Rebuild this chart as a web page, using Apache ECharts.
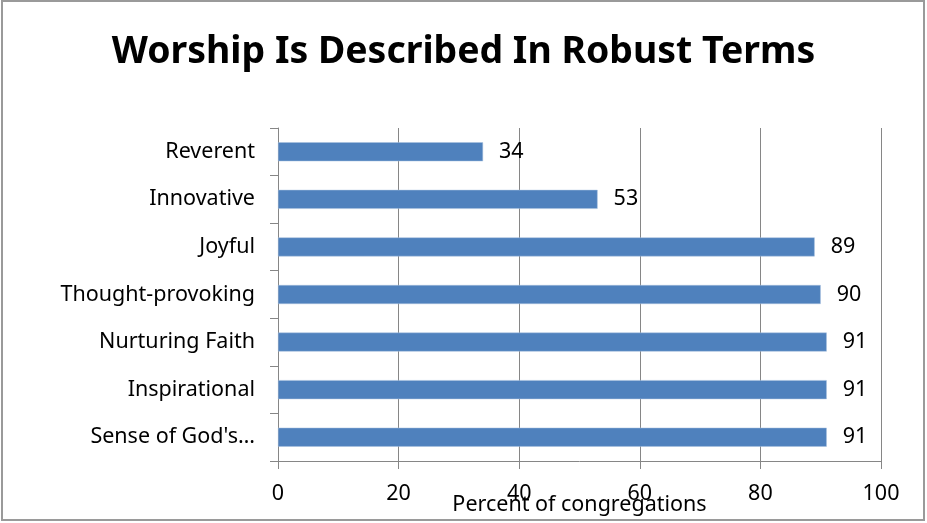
<!DOCTYPE html>
<html>
<head>
<meta charset="utf-8">
<style>
  html, body { margin: 0; padding: 0; background: #fff; }
  #chart { width: 927px; height: 523px; }
</style>
<script src="https://cdn.jsdelivr.net/npm/echarts@6/dist/echarts.min.js"></script>
</head>
<body>
<div id="chart"></div>
<script>
// Worship descriptors, listed top to bottom
const categories = ['Reverent', 'Innovative', 'Joyful', 'Thought-provoking', 'Nurturing Faith', 'Inspirational', "Sense of God's\u2026"];
const percentValues = [34, 53, 89, 90, 91, 91, 91];
const axisMin = 0, axisMax = 100, axisStep = 20;

const FONT = '"Noto Sans", "Open Sans", sans-serif';
const chart = echarts.init(document.getElementById('chart'), null, { renderer: 'canvas' });

chart.setOption({
  animation: false,
  backgroundColor: '#ffffff',
  title: {
    text: 'Worship Is Described In Robust Terms',
    left: 'center',
    top: 29,
    textStyle: { fontFamily: FONT, fontWeight: 'bold', fontSize: 37.4, color: '#000' }
  },
  graphic: [{
    type: 'rect',
    shape: { x: 2, y: 1, width: 922, height: 519 },
    style: { fill: 'none', stroke: '#9a9a9a', lineWidth: 2 },
    silent: true,
    z: 100
  }],
  grid: { left: 278, right: 46, top: 128, bottom: 62, containLabel: false, outerBoundsMode: 'none' },
  xAxis: {
    type: 'value',
    min: axisMin, max: axisMax, interval: axisStep,
    name: 'Percent of congregations',
    nameLocation: 'middle',
    nameGap: 33,
    nameMoveOverlap: false,
    nameTextStyle: { fontFamily: FONT, fontSize: 21.5, color: '#000' },
    axisLine: { show: true, lineStyle: { color: '#868686', width: 1 } },
    axisTick: { show: true, length: 8, lineStyle: { color: '#868686' } },
    axisLabel: { fontFamily: FONT, fontSize: 21.5, color: '#000', margin: 22 },
    splitLine: { show: true, lineStyle: { color: '#868686', width: 1 } }
  },
  yAxis: {
    type: 'category',
    data: categories,
    inverse: true,
    axisLine: { show: true, lineStyle: { color: '#868686', width: 1 } },
    axisTick: { show: true, length: 8, lineStyle: { color: '#868686' } },
    axisLabel: { fontFamily: FONT, fontSize: 21.5, color: '#000', margin: 23, padding: [3, 0, 0, 0] },
    splitLine: { show: false }
  },
  series: [{
    type: 'bar',
    data: percentValues,
    barWidth: 19,
    itemStyle: { color: '#4F81BD', borderColor: '#a9c0de', borderWidth: 0.5 },
    label: {
      show: true,
      position: 'right',
      distance: 16,
      fontFamily: FONT,
      fontSize: 21.5,
      color: '#000',
      padding: [3, 0, 0, 0]
    }
  }]
});
</script>
</body>
</html>
